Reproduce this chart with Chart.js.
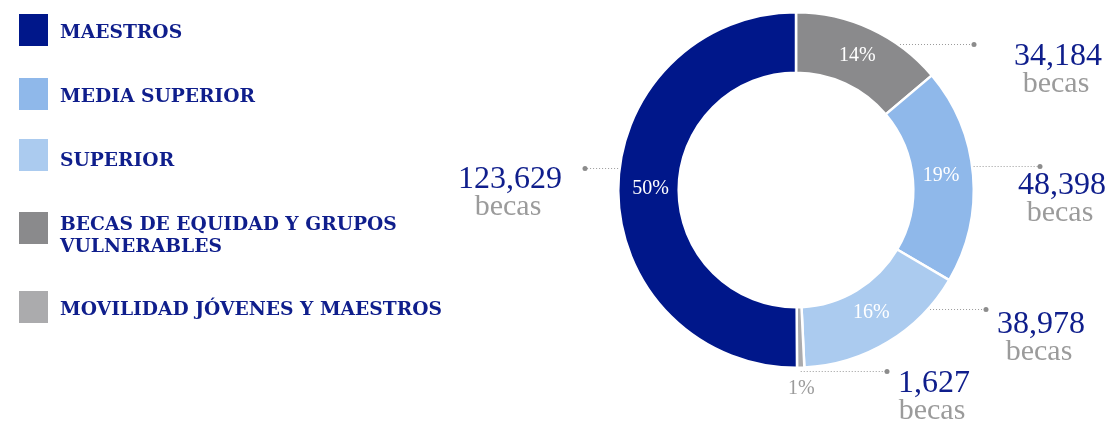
<!DOCTYPE html>
<html>
<head>
<meta charset="utf-8">
<script src="https://cdn.jsdelivr.net/npm/chart.js@4.4.0/dist/chart.umd.min.js"></script>
<style>
    body { margin: 0; background: #fff; }
    #wrap { position: relative; width: 1114px; height: 423px; overflow: hidden; }
    #becas-chart { position: absolute; left: 0; top: 0; }
    .legend-sq { position: absolute; left: 19px; width: 29px; height: 32px; }
    .legend-txt {
        position: absolute; left: 60px; white-space: nowrap;
        font-family: 'DejaVu Serif', serif; font-weight: bold; font-size: 18.7px;
        line-height: 22px; color: #0f1e8c;
    }
</style>
</head>
<body>
<div id="wrap">
    <canvas id="becas-chart" width="1114" height="423"></canvas>
    <div id="legend"></div>
</div>
<script>
// Slices in drawing order (clockwise from 12 o'clock)
const categories = ['BECAS DE EQUIDAD Y GRUPOS VULNERABLES', 'MEDIA SUPERIOR', 'SUPERIOR', 'MOVILIDAD JÓVENES Y MAESTROS', 'MAESTROS'];
const becasValues = [34184, 48398, 38978, 1627, 123629];
const valueLabels = ['34,184', '48,398', '38,978', '1,627', '123,629'];
const percentLabels = ['14%', '19%', '16%', '1%', '50%'];
const sliceColors = ['#8a8a8c', '#8fb8ea', '#abcbef', '#ababad', '#00178a'];

// Legend shows the slices in this order
const legendOrder = [4, 1, 2, 0, 3];

const BLUE_TEXT = '#0f1e8c';
const GRAY_TEXT = '#9b9b9b';

// Legend rows: square top and text offset
const legendRows = [
    { top: 14, off: 6 },
    { top: 78, off: 6 },
    { top: 139, off: 9 },
    { top: 212, off: 0 },
    { top: 291, off: 6 }
];
const legend = document.getElementById('legend');
legendOrder.forEach(function (idx, i) {
    const sq = document.createElement('div');
    sq.className = 'legend-sq';
    sq.style.top = legendRows[i].top + 'px';
    sq.style.background = sliceColors[idx];
    legend.appendChild(sq);
    const txt = document.createElement('div');
    txt.className = 'legend-txt';
    txt.style.top = (legendRows[i].top + legendRows[i].off) + 'px';
    if (idx === 0) {
        txt.innerHTML = 'BECAS DE EQUIDAD Y GRUPOS<br>VULNERABLES';
    } else {
        txt.textContent = categories[idx];
    }
    legend.appendChild(txt);
});

// Callout layout relative to the doughnut centre: leader line dy, dot dx, text dx, number baseline dy
const callouts = [
    { dy: -146, dot: 178, tx: 262, ty: -125 },
    { dy: -24, dot: 244, tx: 266, ty: 4 },
    { dy: 119, dot: 190, tx: 245, ty: 143 },
    { dy: 181, dot: 91, tx: 138, ty: 202 },
    { dy: -22, dot: -211, tx: -286, ty: -2 }
];

const calloutPlugin = {
    id: 'callouts',
    afterDatasetsDraw: function (chart) {
        const ctx = chart.ctx;
        const meta = chart.getDatasetMeta(0);
        const total = becasValues.reduce((a, b) => a + b, 0);
        ctx.save();
        meta.data.forEach(function (arc, i) {
            const p = arc.getProps(['x', 'y', 'startAngle', 'endAngle', 'innerRadius', 'outerRadius']);
            const R = p.outerRadius + 1.5;
            const c = callouts[i];
            const ly = p.y + c.dy;
            const dotX = p.x + c.dot;
            const mid = (p.startAngle + p.endAngle) / 2;
            let sx;
            if (Math.abs(c.dy) < R) {
                sx = p.x + Math.sign(c.dot) * Math.sqrt(R * R - c.dy * c.dy);
            } else {
                sx = p.x + Math.cos(mid) * R;
            }
            // dotted leader
            ctx.strokeStyle = '#9a9a9a';
            ctx.lineWidth = 1;
            ctx.setLineDash([1, 2]);
            ctx.beginPath();
            ctx.moveTo(sx, ly + 0.5);
            ctx.lineTo(dotX, ly + 0.5);
            ctx.stroke();
            ctx.setLineDash([]);
            ctx.fillStyle = '#8c8c8c';
            ctx.beginPath();
            ctx.arc(dotX, ly + 0.5, 2.5, 0, Math.PI * 2);
            ctx.fill();

            // value + "becas"
            ctx.textAlign = 'center';
            ctx.textBaseline = 'alphabetic';
            ctx.font = '32px "Liberation Serif"';
            ctx.fillStyle = BLUE_TEXT;
            ctx.fillText(valueLabels[i], p.x + c.tx, p.y + c.ty);
            ctx.font = '30px "Liberation Serif"';
            ctx.fillStyle = GRAY_TEXT;
            ctx.fillText('becas', p.x + c.tx - 2, p.y + c.ty + 27);

            // percentage
            ctx.font = '20px "Liberation Serif"';
            ctx.textBaseline = 'middle';
            if (becasValues[i] / total < 0.05) {
                const r = R + 20;
                ctx.fillStyle = GRAY_TEXT;
                ctx.fillText(percentLabels[i], p.x + Math.cos(mid) * r, p.y + Math.sin(mid) * r);
            } else {
                const r = (p.innerRadius + p.outerRadius) / 2 - 2;
                ctx.fillStyle = '#ffffff';
                ctx.fillText(percentLabels[i], p.x + Math.cos(mid) * r, p.y + Math.sin(mid) * r - 2);
            }
        });
        ctx.restore();
    }
};

const ctx = document.getElementById('becas-chart').getContext('2d');
const becasChart = new Chart(ctx, {
    type: 'doughnut',
    data: {
        labels: categories,
        datasets: [{
            data: becasValues,
            backgroundColor: sliceColors,
            borderColor: '#ffffff',
            borderWidth: 2.5
        }]
    },
    options: {
        responsive: false,
        animation: false,
        cutout: '66%',
        layout: { padding: { left: 617, right: 139, top: 11, bottom: 54 } },
        plugins: {
            legend: { display: false },
            tooltip: { enabled: false }
        }
    },
    plugins: [calloutPlugin]
});
</script>
</body>
</html>
